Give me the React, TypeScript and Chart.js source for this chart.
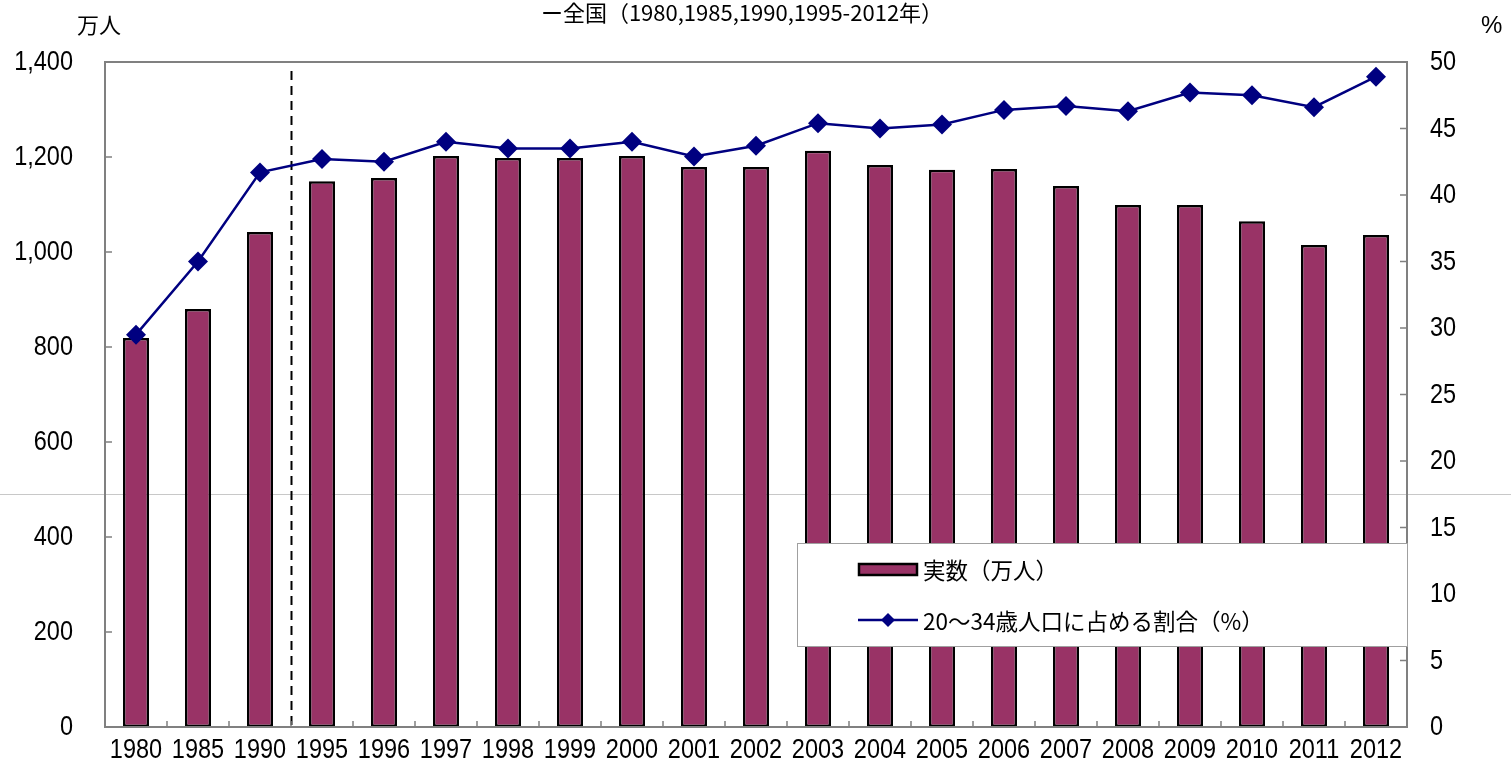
import React, { useEffect, useRef } from "react";
import { Chart, registerables } from "chart.js";

Chart.register(...registerables);

const categories = ["1980","1985","1990","1995","1996","1997","1998","1999","2000","2001","2002","2003","2004","2005","2006","2007","2008","2009","2010","2011","2012"];
const countValues = [819,880,1042,1149,1156,1202,1198,1198,1202,1179,1179,1213,1183,1173,1175,1139,1099,1099,1065,1015,1036];
const shareValues = [29.5,35.0,41.7,42.7,42.5,44.0,43.5,43.5,44.0,42.9,43.7,45.4,45.0,45.3,46.4,46.7,46.3,47.7,47.5,46.6,48.9];
const countLabel = "実数（万人）";
const shareLabel = "20～34歳人口に占める割合（%）";
const titleText = "ー全国（1980,1985,1990,1995-2012年）";
const leftUnit = "万人";
const rightUnit = "%";

const NUM_FONT = '"Liberation Sans", Arial, sans-serif';
const JP_FONT = '"Noto Sans CJK JP", sans-serif';
const BAR_COLOR = "#993366";
const LINE_COLOR = "#000080";
const SQUEEZE = 0.87;
const NUM_SIZE = 27;

function squeezedText(ctx: CanvasRenderingContext2D, text: string, x: number, y: number, align: "left" | "right" | "center") {
  ctx.save();
  ctx.translate(x, y);
  ctx.scale(SQUEEZE, 1);
  ctx.textAlign = align;
  ctx.fillText(text, 0, 0);
  ctx.restore();
}

const decorPlugin = {
  id: "decor",
  beforeDraw(chart: any) {
    const ctx = chart.ctx;
    ctx.save();
    ctx.strokeStyle = "#c8c8c8";
    ctx.lineWidth = 1;
    ctx.beginPath();
    ctx.moveTo(0, 494.5);
    ctx.lineTo(chart.width, 494.5);
    ctx.stroke();
    ctx.restore();
  },
  beforeDatasetsDraw(chart: any) {
    const { ctx, chartArea, scales } = chart;
    const { left, right, top, bottom } = chartArea;
    ctx.save();
    // dashed separator between 1990 and 1995
    const x = Math.round(scales.x.getPixelForValue(2.5)) + 0.5;
    ctx.strokeStyle = "#000";
    ctx.lineWidth = 2;
    ctx.setLineDash([9, 6]);
    ctx.beginPath();
    ctx.moveTo(x, top + 9);
    ctx.lineTo(x, bottom);
    ctx.stroke();
    ctx.setLineDash([]);
    // inward ticks
    ctx.strokeStyle = "#808080";
    ctx.lineWidth = 1.5;
    ctx.beginPath();
    scales.y.ticks.forEach((t: any) => {
      const y = scales.y.getPixelForValue(t.value);
      ctx.moveTo(left, y);
      ctx.lineTo(left + 7, y);
    });
    scales.y1.ticks.forEach((t: any) => {
      const y = scales.y1.getPixelForValue(t.value);
      ctx.moveTo(right, y);
      ctx.lineTo(right - 7, y);
    });
    for (let i = 1; i < categories.length; i++) {
      const xx = scales.x.getPixelForValue(i - 0.5);
      ctx.moveTo(xx, bottom);
      ctx.lineTo(xx, bottom - 6);
    }
    ctx.stroke();
    ctx.restore();
  },
  afterDatasetsDraw(chart: any) {
    const { ctx, chartArea } = chart;
    const { left, right, top, bottom } = chartArea;
    ctx.save();
    // plot border
    ctx.strokeStyle = "#808080";
    ctx.lineWidth = 2;
    ctx.strokeRect(left, top, right - left, bottom - top);
    // legend box
    const bx = 797, by = 543, bw = right - bx, bh = 103;
    ctx.fillStyle = "#ffffff";
    ctx.fillRect(bx, by, bw, bh);
    ctx.strokeStyle = "#a0a0a0";
    ctx.lineWidth = 1;
    ctx.strokeRect(bx + 0.5, by + 0.5, bw, bh);
    // bar swatch
    ctx.fillStyle = BAR_COLOR;
    ctx.fillRect(859, 564, 58, 11);
    ctx.strokeStyle = "#000";
    ctx.lineWidth = 2.5;
    ctx.strokeRect(859, 564, 58, 11);
    // line swatch
    ctx.strokeStyle = LINE_COLOR;
    ctx.lineWidth = 2.5;
    ctx.beginPath();
    ctx.moveTo(858, 620);
    ctx.lineTo(918, 620);
    ctx.stroke();
    ctx.fillStyle = LINE_COLOR;
    ctx.beginPath();
    ctx.moveTo(888, 613);
    ctx.lineTo(895, 620);
    ctx.lineTo(888, 627);
    ctx.lineTo(881, 620);
    ctx.closePath();
    ctx.fill();
    ctx.fillStyle = "#000";
    ctx.font = `22.5px ${JP_FONT}`;
    ctx.textAlign = "left";
    ctx.textBaseline = "middle";
    ctx.fillText(chart.data.datasets[0].label, 923, 570);
    ctx.fillText(chart.data.datasets[1].label, 923, 621);
    ctx.restore();
  },
  afterDraw(chart: any) {
    const { ctx, chartArea, scales } = chart;
    ctx.save();
    ctx.fillStyle = "#000";
    ctx.textBaseline = "middle";
    // tick labels
    ctx.font = `${NUM_SIZE}px ${NUM_FONT}`;
    scales.y.ticks.forEach((t: any) => {
      const y = scales.y.getPixelForValue(t.value);
      squeezedText(ctx, Number(t.value).toLocaleString("en-US"), chartArea.left - 32, y + 1, "right");
    });
    scales.y1.ticks.forEach((t: any) => {
      const y = scales.y1.getPixelForValue(t.value);
      squeezedText(ctx, String(t.value), chartArea.right + 23, y + 1, "left");
    });
    chart.data.labels.forEach((lab: string, i: number) => {
      const xx = scales.x.getPixelForValue(i);
      squeezedText(ctx, lab, xx, chartArea.bottom + 24, "center");
    });
    // title and units
    ctx.font = `22px ${JP_FONT}`;
    ctx.textAlign = "center";
    ctx.fillText(titleText, 742, 13);
    ctx.textAlign = "left";
    ctx.fillText(leftUnit, 77, 25);
    ctx.font = `24px ${NUM_FONT}`;
    ctx.fillText(rightUnit, 1481, 26);
    ctx.restore();
  },
};

export default function App() {
  const ref = useRef<HTMLCanvasElement | null>(null);
  useEffect(() => {
    if (!ref.current) return;
    const chart = new Chart(ref.current, {
      type: "bar",
      data: {
        labels: categories,
        datasets: [
          {
            type: "bar",
            label: countLabel,
            data: countValues,
            backgroundColor: BAR_COLOR,
            borderColor: "#000",
            borderWidth: 2.5,
            borderSkipped: false,
            barPercentage: 0.42,
            categoryPercentage: 1,
            yAxisID: "y",
            order: 2,
          },
          {
            type: "line",
            label: shareLabel,
            data: shareValues,
            borderColor: LINE_COLOR,
            backgroundColor: LINE_COLOR,
            borderWidth: 2.5,
            pointStyle: "rectRot",
            pointRadius: 10,
            pointBorderWidth: 0,
            tension: 0,
            yAxisID: "y1",
            order: 1,
          },
        ],
      } as any,
      options: {
        animation: false,
        responsive: false,
        maintainAspectRatio: false,
        layout: { padding: { top: 62, left: 0, right: 0, bottom: 0 } },
        plugins: { legend: { display: false }, title: { display: false }, tooltip: { enabled: false } },
        scales: {
          x: {
            grid: { display: false, drawTicks: false },
            border: { display: false },
            ticks: { display: false, autoSkip: false },
            afterFit(s: any) { s.height = 51; },
          },
          y: {
            position: "left",
            min: 0,
            max: 1400,
            grid: { display: false, drawTicks: false },
            border: { display: false },
            ticks: { display: false, stepSize: 200 },
            afterFit(s: any) { s.width = 105; },
          },
          y1: {
            position: "right",
            min: 0,
            max: 50,
            grid: { display: false, drawTicks: false },
            border: { display: false },
            ticks: { display: false, stepSize: 5 },
            afterFit(s: any) { s.width = 104; },
          },
        },
      } as any,
      plugins: [decorPlugin],
    });
    return () => chart.destroy();
  }, []);
  return (
    <div style={{ position: "absolute", left: 0, top: 0, width: 1511, height: 778, background: "#fff" }}>
      <canvas ref={ref} width={1511} height={778} style={{ width: 1511, height: 778, display: "block" }} />
    </div>
  );
}
